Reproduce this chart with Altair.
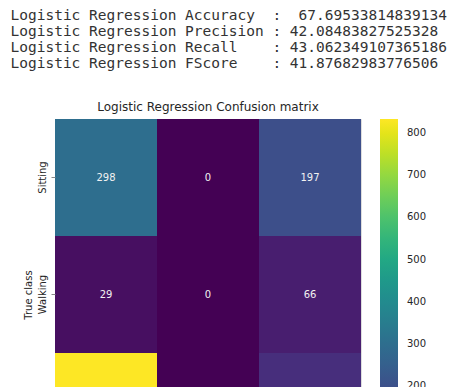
import altair as alt
import pandas as pd

# Classifier scores printed above the matrix
score_lines = [
    "Logistic Regression Accuracy  :  67.69533814839134",
    "Logistic Regression Precision : 42.08483827525328",
    "Logistic Regression Recall    : 43.062349107365186",
    "Logistic Regression FScore    : 41.87682983776506",
]

# Confusion matrix (rows = true class, columns = predicted class)
classes = ["Sitting", "Walking", "Standing"]
row_sitting = [298, 0, 197]
row_walking = [29, 0, 66]
row_standing = [834, 0, 108]
matrix = [row_sitting, row_walking, row_standing]

records = []
for true_cls, row in zip(classes, matrix):
    for pred_cls, count in zip(classes, row):
        records.append({"true": true_cls, "pred": pred_cls, "count": count})
df = pd.DataFrame(records)

vmax = max(max(r) for r in matrix)
color_scale = alt.Scale(scheme="viridis", domain=[0, vmax])

# keep the column alignment of the printed scores (SVG collapses plain spaces)
printed = [line.replace(" ", "\u00a0") for line in score_lines]

base = alt.Chart(df).encode(
    x=alt.X("pred:N", sort=classes, title="Predicted class",
            axis=alt.Axis(labelAngle=0, labelFontSize=10, titleFontSize=10,
                          domain=False, tickSize=4, labelColor="#262626",
                          titleColor="#262626", titleFontWeight="normal")),
    y=alt.Y("true:N", sort=classes, title="True class",
            axis=alt.Axis(labelAngle=270, labelAlign="center", labelBaseline="bottom",
                          labelFontSize=10, titleFontSize=10, domain=False, tickSize=4,
                          labelPadding=4, titlePadding=4, labelColor="#262626",
                          titleColor="#262626", titleFontWeight="normal")),
)

cells = base.mark_rect().encode(
    color=alt.Color("count:Q", scale=color_scale, title=None,
                    legend=alt.Legend(orient="none", legendX=325, legendY=0,
                                      direction="vertical", gradientLength=351,
                                      gradientThickness=18,
                                      values=[0, 100, 200, 300, 400, 500, 600, 700, 800],
                                      labelFontSize=10, labelColor="#262626",
                                      labelOffset=9, gradientStrokeWidth=0,
                                      labelOverlap=False))
)

labels = base.mark_text(fontSize=10, font="DejaVu Sans").encode(
    text="count:Q",
    color=alt.condition(alt.datum.count > vmax * 0.6, alt.value("#262626"), alt.value("#f2f2f2")),
)

heatmap = alt.layer(cells, labels).properties(
    width=306,
    height=351,
    title=alt.TitleParams("Logistic Regression Confusion matrix", fontSize=12,
                          fontWeight="normal", color="#262626", font="DejaVu Sans",
                          offset=5),
)

chart = alt.vconcat(heatmap).properties(
    title=alt.TitleParams(printed, font="DejaVu Sans Mono", fontSize=14.5,
                          fontWeight="normal", color="#333333", anchor="start",
                          lineHeight=16, offset=29, dx=-12),
    padding={"left": 10, "top": 8, "right": 5, "bottom": 5},
).configure_view(stroke=None).configure(font="DejaVu Sans").configure_axis(grid=False)

chart.save("out.html", embed_options={"renderer": "svg", "actions": False})
